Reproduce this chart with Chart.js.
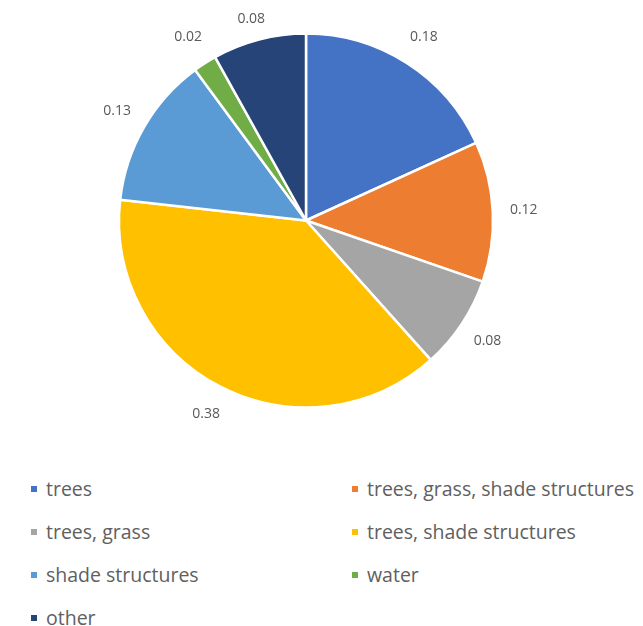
<!DOCTYPE html>
<html>
<head>
<meta charset="utf-8">
<script src="https://cdn.jsdelivr.net/npm/chart.js@4"></script>
<style>
    html, body { margin: 0; padding: 0; background: #fff; }
    #wrap { position: relative; width: 643px; height: 626px; overflow: hidden; }
    #pieBox { position: absolute; left: 0; top: 0; width: 643px; height: 441px; }
    .legend-item {
        position: absolute;
        font-family: "Open Sans", sans-serif;
        font-size: 19.5px;
        color: #606060;
        line-height: 20px;
        white-space: nowrap;
    }
    .legend-item .swatch {
        display: inline-block;
        width: 6px;
        height: 6px;
        margin-right: 9px;
        vertical-align: middle;
        position: relative;
        top: -2px;
    }
</style>
</head>
<body>
<div id="wrap">
    <div id="pieBox"><canvas id="pieChart"></canvas></div>
    <div id="legend"></div>
</div>
<script>
// Shade type shares
const categories = ["trees", "trees, grass, shade structures", "trees, grass", "trees, shade structures", "shade structures", "water", "other"];
const shares = [0.18, 0.12, 0.08, 0.38, 0.13, 0.02, 0.08];
const sliceColors = ["#4472C4", "#ED7D31", "#A5A5A5", "#FFC000", "#5B9BD5", "#70AD47", "#264478"];

// value labels just outside each slice, kept inside the top edge
const outsideLabels = {
    id: "outsideLabels",
    afterDatasetsDraw(chart) {
        const ctx = chart.ctx;
        const meta = chart.getDatasetMeta(0);
        ctx.save();
        ctx.font = "14px 'Open Sans', sans-serif";
        ctx.fillStyle = "#595959";
        ctx.textAlign = "center";
        ctx.textBaseline = "middle";
        meta.data.forEach((arc, i) => {
            const p = arc.getProps(["x", "y", "startAngle", "endAngle", "outerRadius"], true);
            const mid = (p.startAngle + p.endAngle) / 2;
            const r = p.outerRadius + 31;
            const ly = Math.max(p.y + Math.sin(mid) * r, 19);
            ctx.fillText(shares[i].toFixed(2), p.x + Math.cos(mid) * r, ly);
        });
        ctx.restore();
    }
};

new Chart(document.getElementById("pieChart"), {
    type: "pie",
    data: {
        labels: categories,
        datasets: [{
            data: shares,
            backgroundColor: sliceColors,
            borderColor: "#ffffff",
            borderWidth: 2.5
        }]
    },
    options: {
        responsive: true,
        maintainAspectRatio: false,
        animation: false,
        radius: 187,
        layout: { padding: { left: 0, right: 31, top: 0, bottom: 0 } },
        plugins: {
            legend: { display: false },
            tooltip: { enabled: false }
        }
    },
    plugins: [outsideLabels]
});

// two-column legend below the pie
const legendCols = [31, 352];
const legendRows = [489, 532, 575, 618];
const legendDiv = document.getElementById("legend");
categories.forEach((name, i) => {
    const item = document.createElement("div");
    item.className = "legend-item";
    item.style.left = legendCols[i % 2] + "px";
    item.style.top = (legendRows[Math.floor(i / 2)] - 10) + "px";
    item.innerHTML = `<span class="swatch" style="background:${sliceColors[i]}"></span>${name}`;
    legendDiv.appendChild(item);
});
</script>
</body>
</html>
